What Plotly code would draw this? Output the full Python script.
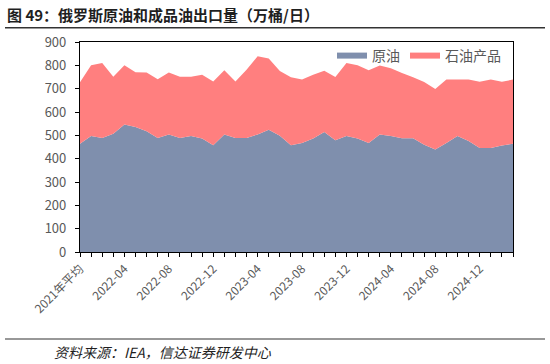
import plotly.graph_objects as go

categories = ["2021年平均"] + [f"{y}-{m:02d}" for y in (2022, 2023, 2024) for m in range(1, 13)] + ["2025-01", "2025-02", "2025-03"]

crude = [464, 497, 489, 507, 546, 536, 517, 489, 504, 489,
         497, 486, 457, 504, 489, 489, 504, 524, 498, 457,
         467, 486, 514, 479, 497, 486, 467, 504, 497, 487,
         487, 460, 439, 467, 497, 476, 446, 446, 456, 464]

total = [727, 800, 810, 751, 800, 770, 769, 740, 769, 751,
         751, 760, 731, 779, 731, 781, 839, 829, 776, 749,
         739, 760, 777, 750, 810, 800, 779, 799, 787, 767,
         749, 729, 699, 739, 739, 739, 730, 739, 730, 739]

products = [t - c for t, c in zip(total, crude)]

tick_labels = [c if (i % 4 == 0) else "" for i, c in enumerate(categories)]

W, H = 550, 364
L, R, T, B = 80, 513, 42, 252

def px(x):
    return (x - L) / (R - L)

def py(y):
    return (B - y) / (B - T)

fig = go.Figure()
fig.add_trace(go.Scatter(x=categories, y=crude, name="原油", stackgroup="one",
                         mode="none", fillcolor="#7F8FAD"))
fig.add_trace(go.Scatter(x=categories, y=products, name="石油产品", stackgroup="one",
                         mode="none", fillcolor="#FF7F7F"))

fig.update_layout(
    width=W, height=H,
    margin=dict(l=L, r=W - R, t=T, b=H - B),
    paper_bgcolor="white", plot_bgcolor="white",
    font=dict(family="Noto Sans CJK SC", color="#595959"),
    showlegend=True,
    legend=dict(orientation="h", x=px(506), xanchor="right", y=py(56), yanchor="middle",
                bgcolor="rgba(0,0,0,0)", font=dict(size=14, color="#595959"),
                traceorder="normal"),
    xaxis=dict(type="category", range=[0, len(categories) - 1],
               tickmode="array", tickvals=categories, ticktext=tick_labels,
               tickangle=-45, ticks="outside", ticklen=4, tickcolor="#000",
               showline=True, linecolor="#000", linewidth=1.2, mirror=True,
               showgrid=False, tickfont=dict(size=12, color="#595959")),
    yaxis=dict(range=[0, 900], tickvals=list(range(0, 901, 100)),
               ticks="outside", ticklen=4, tickcolor="#000",
               ticklabelstandoff=6,
               showline=True, linecolor="#000", linewidth=1.2, mirror=True,
               showgrid=False, tickfont=dict(size=13, color="#595959")),
)

fig.add_annotation(text="<b>图 49：俄罗斯原油和成品油出口量（万桶/日）</b>",
                   xref="paper", yref="paper", x=px(5), y=py(14),
                   xanchor="left", yanchor="middle", showarrow=False,
                   font=dict(size=15, color="#1F1F1F", family="Noto Sans CJK SC"))
fig.add_annotation(text="<i>资料来源：IEA，信达证券研发中心</i>",
                   xref="paper", yref="paper", x=px(52), y=py(352),
                   xanchor="left", yanchor="middle", showarrow=False,
                   font=dict(size=14, color="#1F1F1F", family="Noto Sans CJK SC"))
for yy in (28, 339):
    fig.add_shape(type="line", xref="paper", yref="paper", x0=px(5), x1=px(545),
                  y0=py(yy), y1=py(yy), layer="above",
                  line=dict(color="#333333", width=1.2))

post = (
    "document.body.style.margin='0';document.body.style.padding='0';"
    "var d=document.createElement('div');"
    "d.style.cssText='position:absolute;left:5px;top:27px;width:540px;height:1px;"
    "background:#333333;z-index:1000;pointer-events:none';"
    "document.body.appendChild(d);"
)

fig.write_html("out.html", config={"displayModeBar": False}, post_script=post)
